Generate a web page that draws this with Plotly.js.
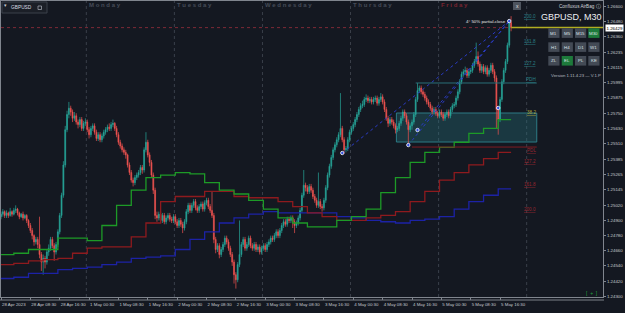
<!DOCTYPE html>
<html><head><meta charset="utf-8">
<script src="https://cdn.plot.ly/plotly-3.0.1.min.js"></script>
<style>html,body{margin:0;padding:0;background:#141821;}#chart{width:625px;height:313px;}</style>
</head><body><div id="chart"></div>
<script>
// ---------- DATA (GBPUSD M30, 28 Apr 2023 00:30 -> 5 May 2023) ----------
const barOpen = [
1.2493,1.2495,1.2497,1.2494,1.2496,1.2494,1.2497,1.2495,1.2498,1.2499,
1.2496,1.2493,1.2495,1.2492,1.2494,1.2490,1.2486,1.2482,1.2478,1.2473,
1.2475,1.2471,1.2463,1.2457,1.2460,1.2457,1.2465,1.2468,1.2475,1.2470,
1.2465,1.2471,1.2481,1.2494,1.2510,1.2534,1.2562,1.2574,1.2579,1.2576,
1.2571,1.2573,1.2568,1.2566,1.2570,1.2563,1.2567,1.2568,1.2562,1.2558,
1.2563,1.2565,1.2560,1.2555,1.2558,1.2554,1.2557,1.2560,1.2562,1.2564,
1.2563,1.2566,1.2567,1.2563,1.2558,1.2552,1.2549,1.2546,1.2544,1.2542,
1.2534,1.2528,1.2522,1.2520,1.2524,1.2526,1.2528,1.2532,1.2530,1.2546,
1.2552,1.2542,1.2536,1.2526,1.2514,1.2494,1.2492,1.2495,1.2490,1.2494,
1.2489,1.2492,1.2494,1.2491,1.2490,1.2493,1.2489,1.2486,1.2490,1.2487,
1.2484,1.2489,1.2497,1.2502,1.2498,1.2502,1.2505,1.2500,1.2498,1.2501,
1.2503,1.2499,1.2504,1.2506,1.2501,1.2498,1.2494,1.2475,1.2467,1.2470,
1.2463,1.2467,1.2471,1.2476,1.2473,1.2468,1.2463,1.2457,1.2447,1.2443,
1.2455,1.2463,1.2471,1.2475,1.2468,1.2471,1.2476,1.2470,1.2468,1.2471,
1.2467,1.2469,1.2465,1.2468,1.2470,1.2467,1.2471,1.2473,1.2476,1.2475,
1.2478,1.2481,1.2478,1.2482,1.2486,1.2489,1.2487,1.2491,1.2490,1.2492,
1.2489,1.2486,1.2488,1.2492,1.2498,1.2510,1.2518,1.2516,1.2513,1.2517,
1.2514,1.2509,1.2506,1.2502,1.2505,1.2501,1.2500,1.2506,1.2516,1.2526,
1.2533,1.2540,1.2546,1.2550,1.2554,1.2558,1.2563,1.2554,1.2546,1.2547,
1.2554,1.2560,1.2563,1.2566,1.2570,1.2574,1.2578,1.2581,1.2582,1.2586,
1.2587,1.2585,1.2586,1.2584,1.2586,1.2587,1.2583,1.2586,1.2588,1.2584,
1.2578,1.2571,1.2567,1.2570,1.2568,1.2565,1.2562,1.2563,1.2567,1.2571,
1.2576,1.2573,1.2568,1.2562,1.2565,1.2568,1.2574,1.2586,1.2593,1.2595,
1.2592,1.2590,1.2587,1.2584,1.2582,1.2579,1.2576,1.2578,1.2575,1.2573,
1.2576,1.2574,1.2571,1.2574,1.2576,1.2573,1.2578,1.2581,1.2582,1.2587,
1.2592,1.2600,1.2606,1.2608,1.2609,1.2605,1.2608,1.2609,1.2613,1.2616,
1.2620,1.2614,1.2609,1.2612,1.2608,1.2611,1.2606,1.2609,1.2613,1.2608,
1.2603,1.2578,1.2570,1.2586,1.2600,1.2609,1.2616,1.2629,1.2647];
const barHigh = [
1.2497,1.2499,1.2498,1.2498,1.2497,1.2500,1.2498,1.2500,1.2502,1.2500,
1.2497,1.2496,1.2497,1.2495,1.2495,1.2491,1.2488,1.2484,1.2479,1.2477,
1.2477,1.2493,1.2465,1.2463,1.2462,1.2467,1.2471,1.2477,1.2477,1.2472,
1.2473,1.2483,1.2496,1.2512,1.2537,1.2565,1.2577,1.2584,1.2581,1.2578,
1.2576,1.2575,1.2570,1.2572,1.2572,1.2569,1.2571,1.2570,1.2564,1.2565,
1.2567,1.2567,1.2562,1.2560,1.2560,1.2559,1.2562,1.2564,1.2566,1.2567,
1.2568,1.2570,1.2568,1.2565,1.2560,1.2554,1.2551,1.2548,1.2546,1.2543,
1.2536,1.2530,1.2524,1.2526,1.2528,1.2530,1.2534,1.2534,1.2548,1.2560,
1.2554,1.2544,1.2538,1.2528,1.2516,1.2497,1.2497,1.2497,1.2496,1.2496,
1.2494,1.2496,1.2496,1.2493,1.2495,1.2495,1.2491,1.2492,1.2492,1.2489,
1.2491,1.2499,1.2504,1.2504,1.2504,1.2507,1.2507,1.2502,1.2503,1.2505,
1.2505,1.2506,1.2508,1.2508,1.2503,1.2513,1.2496,1.2477,1.2472,1.2472,
1.2469,1.2473,1.2478,1.2478,1.2475,1.2470,1.2465,1.2459,1.2449,1.2457,
1.2490,1.2473,1.2477,1.2477,1.2473,1.2478,1.2478,1.2472,1.2473,1.2473,
1.2471,1.2471,1.2470,1.2472,1.2472,1.2473,1.2475,1.2478,1.2478,1.2480,
1.2483,1.2483,1.2484,1.2488,1.2491,1.2491,1.2493,1.2493,1.2494,1.2494,
1.2491,1.2490,1.2494,1.2500,1.2512,1.2530,1.2520,1.2518,1.2519,1.2519,
1.2516,1.2511,1.2508,1.2528,1.2507,1.2503,1.2508,1.2518,1.2528,1.2535,
1.2542,1.2548,1.2552,1.2556,1.2560,1.2591,1.2565,1.2556,1.2549,1.2556,
1.2562,1.2565,1.2568,1.2572,1.2576,1.2580,1.2583,1.2585,1.2588,1.2590,
1.2589,1.2588,1.2588,1.2588,1.2589,1.2589,1.2588,1.2591,1.2590,1.2586,
1.2580,1.2573,1.2572,1.2572,1.2570,1.2567,1.2565,1.2569,1.2573,1.2578,
1.2578,1.2575,1.2570,1.2567,1.2570,1.2576,1.2588,1.2599,1.2597,1.2597,
1.2594,1.2592,1.2589,1.2586,1.2584,1.2581,1.2580,1.2580,1.2577,1.2578,
1.2578,1.2576,1.2576,1.2578,1.2578,1.2580,1.2583,1.2584,1.2589,1.2594,
1.2602,1.2608,1.2610,1.2612,1.2611,1.2610,1.2611,1.2615,1.2618,1.2631,
1.2624,1.2616,1.2614,1.2614,1.2613,1.2613,1.2611,1.2615,1.2615,1.2610,
1.2605,1.2580,1.2588,1.2602,1.2611,1.2618,1.2631,1.2649,1.2652];
const barLow = [
1.2491,1.2493,1.2492,1.2492,1.2492,1.2493,1.2493,1.2494,1.2496,1.2494,
1.2491,1.2492,1.2490,1.2491,1.2488,1.2484,1.2480,1.2475,1.2470,1.2471,
1.2468,1.2460,1.2450,1.2447,1.2452,1.2455,1.2462,1.2466,1.2468,1.2458,
1.2463,1.2469,1.2479,1.2492,1.2508,1.2532,1.2560,1.2571,1.2573,1.2568,
1.2569,1.2566,1.2563,1.2564,1.2561,1.2561,1.2565,1.2560,1.2555,1.2556,
1.2561,1.2558,1.2553,1.2553,1.2552,1.2552,1.2555,1.2558,1.2560,1.2561,
1.2561,1.2564,1.2561,1.2556,1.2550,1.2547,1.2544,1.2542,1.2539,1.2532,
1.2526,1.2520,1.2517,1.2518,1.2522,1.2524,1.2526,1.2527,1.2528,1.2544,
1.2540,1.2533,1.2524,1.2511,1.2491,1.2489,1.2490,1.2488,1.2488,1.2487,
1.2487,1.2490,1.2489,1.2488,1.2488,1.2487,1.2484,1.2484,1.2485,1.2480,
1.2482,1.2487,1.2495,1.2496,1.2496,1.2500,1.2498,1.2496,1.2496,1.2499,
1.2497,1.2497,1.2502,1.2499,1.2496,1.2492,1.2472,1.2464,1.2465,1.2460,
1.2461,1.2465,1.2469,1.2471,1.2466,1.2461,1.2454,1.2440,1.2436,1.2441,
1.2453,1.2461,1.2469,1.2466,1.2466,1.2469,1.2468,1.2466,1.2466,1.2465,
1.2465,1.2463,1.2463,1.2466,1.2465,1.2465,1.2469,1.2471,1.2473,1.2473,
1.2476,1.2476,1.2476,1.2480,1.2484,1.2485,1.2485,1.2488,1.2488,1.2484,
1.2480,1.2484,1.2486,1.2490,1.2496,1.2508,1.2513,1.2511,1.2511,1.2512,
1.2507,1.2504,1.2500,1.2500,1.2499,1.2497,1.2498,1.2504,1.2514,1.2524,
1.2531,1.2538,1.2544,1.2548,1.2552,1.2556,1.2552,1.2543,1.2544,1.2545,
1.2552,1.2558,1.2561,1.2564,1.2568,1.2572,1.2576,1.2579,1.2580,1.2584,
1.2583,1.2583,1.2582,1.2582,1.2584,1.2581,1.2581,1.2584,1.2582,1.2576,
1.2569,1.2564,1.2565,1.2566,1.2563,1.2559,1.2560,1.2561,1.2565,1.2569,
1.2571,1.2566,1.2550,1.2560,1.2562,1.2566,1.2572,1.2584,1.2591,1.2590,
1.2588,1.2585,1.2582,1.2580,1.2577,1.2574,1.2574,1.2573,1.2571,1.2571,
1.2572,1.2569,1.2569,1.2572,1.2571,1.2571,1.2576,1.2579,1.2580,1.2585,
1.2590,1.2598,1.2604,1.2606,1.2603,1.2603,1.2606,1.2607,1.2611,1.2614,
1.2612,1.2607,1.2607,1.2606,1.2606,1.2604,1.2604,1.2607,1.2606,1.2600,
1.2563,1.2558,1.2568,1.2584,1.2598,1.2607,1.2614,1.2627,1.2640];
const barClose = [
1.2495,1.2497,1.2494,1.2496,1.2494,1.2497,1.2495,1.2498,1.2499,1.2496,
1.2493,1.2495,1.2492,1.2494,1.2490,1.2486,1.2482,1.2478,1.2473,1.2475,
1.2471,1.2463,1.2457,1.2460,1.2457,1.2465,1.2468,1.2475,1.2470,1.2465,
1.2471,1.2481,1.2494,1.2510,1.2534,1.2562,1.2574,1.2579,1.2576,1.2571,
1.2573,1.2568,1.2566,1.2570,1.2563,1.2567,1.2568,1.2562,1.2558,1.2563,
1.2565,1.2560,1.2555,1.2558,1.2554,1.2557,1.2560,1.2562,1.2564,1.2563,
1.2566,1.2567,1.2563,1.2558,1.2552,1.2549,1.2546,1.2544,1.2542,1.2534,
1.2528,1.2522,1.2520,1.2524,1.2526,1.2528,1.2532,1.2530,1.2546,1.2552,
1.2542,1.2536,1.2526,1.2514,1.2494,1.2492,1.2495,1.2490,1.2494,1.2489,
1.2492,1.2494,1.2491,1.2490,1.2493,1.2489,1.2486,1.2490,1.2487,1.2484,
1.2489,1.2497,1.2502,1.2498,1.2502,1.2505,1.2500,1.2498,1.2501,1.2503,
1.2499,1.2504,1.2506,1.2501,1.2498,1.2494,1.2475,1.2467,1.2470,1.2463,
1.2467,1.2471,1.2476,1.2473,1.2468,1.2463,1.2457,1.2447,1.2443,1.2455,
1.2463,1.2471,1.2475,1.2468,1.2471,1.2476,1.2470,1.2468,1.2471,1.2467,
1.2469,1.2465,1.2468,1.2470,1.2467,1.2471,1.2473,1.2476,1.2475,1.2478,
1.2481,1.2478,1.2482,1.2486,1.2489,1.2487,1.2491,1.2490,1.2492,1.2489,
1.2486,1.2488,1.2492,1.2498,1.2510,1.2518,1.2516,1.2513,1.2517,1.2514,
1.2509,1.2506,1.2502,1.2505,1.2501,1.2500,1.2506,1.2516,1.2526,1.2533,
1.2540,1.2546,1.2550,1.2554,1.2558,1.2563,1.2554,1.2546,1.2547,1.2554,
1.2560,1.2563,1.2566,1.2570,1.2574,1.2578,1.2581,1.2582,1.2586,1.2587,
1.2585,1.2586,1.2584,1.2586,1.2587,1.2583,1.2586,1.2588,1.2584,1.2578,
1.2571,1.2567,1.2570,1.2568,1.2565,1.2562,1.2563,1.2567,1.2571,1.2576,
1.2573,1.2568,1.2562,1.2565,1.2568,1.2574,1.2586,1.2593,1.2595,1.2592,
1.2590,1.2587,1.2584,1.2582,1.2579,1.2576,1.2578,1.2575,1.2573,1.2576,
1.2574,1.2571,1.2574,1.2576,1.2573,1.2578,1.2581,1.2582,1.2587,1.2592,
1.2600,1.2606,1.2608,1.2609,1.2605,1.2608,1.2609,1.2613,1.2616,1.2620,
1.2614,1.2609,1.2612,1.2608,1.2611,1.2606,1.2609,1.2613,1.2608,1.2603,
1.2578,1.2570,1.2586,1.2600,1.2609,1.2616,1.2629,1.2647,1.26429];

// H4-step indicator levels (one value per 8-bar block)
const greenH4 = [1.2463,1.2464,1.2467,1.2467,1.2476,1.2476,1.2474,1.2486,1.2502,1.2514,1.2524,1.2526,1.2528,1.2527,1.2520,1.2514,1.2511,1.2506,1.2499,1.2492,1.2488,1.2485,1.2485,1.2490,1.2493,1.2499,1.2512,1.2524,1.2536,1.2544,1.2548,1.2552,1.2559,1.2563,1.2570];
const redH4 = [1.2455,1.2456,1.2458,1.2459,1.2460,1.2464,1.2468,1.2469,1.2469,1.2477,1.2488,1.2505,1.2509,1.2509,1.2513,1.2513,1.2509,1.2508,1.2508,1.2505,1.2501,1.2496,1.2493,1.2490,1.2490,1.2492,1.2494,1.2497,1.2505,1.2513,1.2522,1.2528,1.2534,1.2539,1.2544];
const blueH4 = [1.2444,1.2445,1.2448,1.2448,1.2451,1.2452,1.2453,1.2455,1.2457,1.2460,1.2461,1.2462,1.2467,1.2475,1.2481,1.2488,1.2492,1.2495,1.2497,1.2496,1.2496,1.2496,1.2496,1.2493,1.2492,1.2490,1.2489,1.2488,1.2490,1.2491,1.2493,1.2499,1.2505,1.2510,1.2515];

// swing points and trend lines
const swingBars = [186, 222, 227, 271, 277];
const swingPrices = [1.25435, 1.25498, 1.25617, 1.25792, 1.26481];
const trendFrom = [0, 1, 2];
const trendTo = 4;

// zones and level labels
const boxBars = [215.5, 292];
const boxPrices = [1.25522, 1.25752];
const pdhPrice = 1.25990, pdhBars = [226, 292];
const pdlPrice = 1.25482, pdlBars = [224, 292];
const levelLabels = ['200.0','161.8','127.2','PDH','38.2','PDL','127.2','161.8','200.0'];
const levelPrices = [1.26517,1.26315,1.26148,1.26014,1.25760,1.25455,1.25364,1.25189,1.24990];
const levelColors = ['#2a8088','#2a8088','#2a8088','#2a8088','#b0a43a','#9a2630','#9a2630','#9a2630','#9a2630'];

// axes
const xTickBars = [0,16,32,48,64,80,96,112,128,144,160,176,192,208,224,240,256,272];
const xTickLabels = ['28 Apr 2023','28 Apr 08:30','28 Apr 16:30','1 May 00:30','1 May 08:30','1 May 16:30','2 May 00:30','2 May 08:30','2 May 16:30','3 May 00:30','3 May 08:30','3 May 16:30','4 May 00:30','4 May 08:30','4 May 16:30','5 May 00:30','5 May 08:30','5 May 16:30'];
const yTickValues = [1.266,1.2648,1.2636,1.26235,1.26115,1.25995,1.25875,1.2575,1.2563,1.2551,1.25385,1.25265,1.25145,1.2502,1.249,1.2478,1.2466,1.2454,1.2442,1.243];
const daySepBars = [46.5, 94.5, 142.5, 190.5, 238.5, 286.5];
const dayNames = ['Monday','Tuesday','Wednesday','Thursday','Friday'];

const btnLabels = [['M1','M5','M15','M30'],['H1','H4','D1','W1'],['ZL','EL','PL','KE']];
const btnActive = ['M30','EL'];

// ---------- BUILD ----------
const FONT = 'Liberation Sans, Arial, sans-serif';
const px = x => (x - 1) / 602;
const py = y => (297 - y) / 296;
const barIndex = barClose.map((_, i) => i);
const lastBar = barIndex[barIndex.length - 1];
const lastClose = barClose[barClose.length - 1];

const traces = [];
traces.push({
  type: 'candlestick', x: barIndex, open: barOpen, high: barHigh, low: barLow, close: barClose,
  increasing: {line: {color: '#26a69a', width: 0.7}, fillcolor: '#26a69a'},
  decreasing: {line: {color: '#ef5350', width: 0.7}, fillcolor: '#ef5350'},
  whiskerwidth: 0, hoverinfo: 'skip', showlegend: false
});
function stepTrace(vals, color) {
  const xs = vals.map((_, k) => Math.max(0, 8 * k - 1));
  xs.push(lastBar);
  const ys = vals.slice(); ys.push(vals[vals.length - 1]);
  return {type: 'scatter', mode: 'lines', x: xs, y: ys, line: {shape: 'hv', color: color, width: 1.3}, hoverinfo: 'skip', showlegend: false};
}
traces.push(stepTrace(blueH4, '#1c22a6'));
traces.push(stepTrace(redH4, '#8e1a1e'));
traces.push(stepTrace(greenH4, '#1d9a27'));
trendFrom.forEach(i => traces.push({
  type: 'scatter', mode: 'lines', x: [swingBars[i], swingBars[trendTo]], y: [swingPrices[i], swingPrices[trendTo]],
  line: {color: '#2a3bc4', width: 1, dash: 'dot'}, hoverinfo: 'skip', showlegend: false
}));
traces.push({type: 'scatter', mode: 'markers', x: swingBars, y: swingPrices,
  marker: {size: 3.4, color: '#3150e0', line: {color: '#ffffff', width: 0.8}}, hoverinfo: 'skip', showlegend: false});

const shapes = [];
const annotations = [];
daySepBars.forEach(b => shapes.push({type: 'line', xref: 'x', yref: 'paper', x0: b, x1: b, y0: 0, y1: 1,
  line: {color: '#3a3f4a', width: 1, dash: 'dot'}, layer: 'below'}));
dayNames.forEach((n, i) => annotations.push({xref: 'x', yref: 'paper', x: daySepBars[i] + 1.0, y: py(5.3),
  xanchor: 'left', yanchor: 'middle', showarrow: false, borderpad: 0, text: n.split('').join(' '),
  font: {family: FONT, size: 6, weight: 'bold', color: n === 'Friday' ? '#7a2430' : '#464c58'}}));
shapes.push({type: 'rect', xref: 'x', yref: 'y', x0: boxBars[0], x1: boxBars[1], y0: boxPrices[0], y1: boxPrices[1],
  fillcolor: 'rgba(38,120,132,0.33)', line: {color: '#2c7b86', width: 1}, layer: 'below'});
shapes.push({type: 'line', xref: 'x', yref: 'y', x0: pdhBars[0], x1: pdhBars[1], y0: pdhPrice, y1: pdhPrice, line: {color: '#2a6f78', width: 1}});
shapes.push({type: 'line', xref: 'x', yref: 'y', x0: pdlBars[0], x1: pdlBars[1], y0: pdlPrice, y1: pdlPrice, line: {color: '#7e1c22', width: 1}});
shapes.push({type: 'line', xref: 'paper', yref: 'y', x0: 0, x1: 1, y0: lastClose, y1: lastClose, line: {color: '#7d2a36', width: 1, dash: 'dot'}});
shapes.push({type: 'line', xref: 'x', yref: 'y', x0: lastBar, x1: 330, y0: lastClose, y1: lastClose, line: {color: '#b1ad22', width: 1.5}});
levelLabels.forEach((t, i) => annotations.push({xref: 'x', yref: 'y', x: boxBars[1], y: levelPrices[i], xanchor: 'right', yanchor: 'middle',
  showarrow: false, borderpad: 0, text: '<u>' + t + '</u>', font: {family: FONT, size: 4.6, color: levelColors[i]}}));
annotations.push({xref: 'x', yref: 'y', x: swingBars[4] - 1, y: swingPrices[4] - 0.00006, xanchor: 'right', yanchor: 'middle', showarrow: false, borderpad: 0,
  text: '4° 50% partial-close', font: {family: FONT, size: 4.4, color: '#e6e6e6'}});
// bottom second frame line
shapes.push({type: 'line', xref: 'paper', yref: 'paper', x0: px(0), x1: px(604), y0: py(300), y1: py(300), line: {color: '#7c818a', width: 1}});
// top-left tab
shapes.push({type: 'rect', xref: 'paper', yref: 'paper', x0: px(2), x1: px(47), y0: py(13), y1: py(2), fillcolor: '#1b1f27', line: {color: '#3a404a', width: 1}});
shapes.push({type: 'rect', xref: 'paper', yref: 'paper', x0: px(38), x1: px(41.5), y0: py(9.5), y1: py(6), line: {color: '#9aa0a8', width: 0.8}});
annotations.push({xref: 'paper', yref: 'paper', x: px(3), y: py(4.5), xanchor: 'left', yanchor: 'middle', showarrow: false, borderpad: 0, text: '▾', font: {family: FONT, size: 5, color: '#c8ccd2'}});
annotations.push({xref: 'paper', yref: 'paper', x: px(10), y: py(7.5), xanchor: 'left', yanchor: 'middle', showarrow: false, borderpad: 0, text: 'GBPUSD', font: {family: FONT, size: 4.8, color: '#d8dce2'}});
// close box
shapes.push({type: 'rect', xref: 'paper', yref: 'paper', x0: px(513), x1: px(521), y0: py(10), y1: py(2), fillcolor: '#4e545e', line: {width: 0}});
annotations.push({xref: 'paper', yref: 'paper', x: px(517), y: py(6), xanchor: 'center', yanchor: 'middle', showarrow: false, borderpad: 0, text: 'x', font: {family: FONT, size: 5, color: '#e0e0e0'}});
// panel
annotations.push({xref: 'paper', yref: 'paper', x: px(602), y: py(5.5), xanchor: 'right', yanchor: 'middle', showarrow: false, borderpad: 0, text: 'Confluxus AirBag ⓘ', font: {family: FONT, size: 4.6, color: '#cfd3d8'}});
annotations.push({xref: 'paper', yref: 'paper', x: px(602.5), y: py(17.5), xanchor: 'right', yanchor: 'middle', showarrow: false, borderpad: 0, text: 'GBPUSD, M30', font: {family: FONT, size: 9, color: '#eceff3'}});
const colX = [548.3, 561.7, 575, 588.3], rowY = [28.3, 42.3, 56];
btnLabels.forEach((row, r) => row.forEach((lab, c) => {
  shapes.push({type: 'rect', xref: 'paper', yref: 'paper', x0: px(colX[c]), x1: px(colX[c] + 11.2), y0: py(rowY[r] + 9.6), y1: py(rowY[r]),
    fillcolor: btnActive.includes(lab) ? '#1d7a3b' : '#434a55', line: {width: 0}});
  annotations.push({xref: 'paper', yref: 'paper', x: px(colX[c] + 5.6), y: py(rowY[r] + 4.8), xanchor: 'center', yanchor: 'middle', showarrow: false, borderpad: 0,
    text: lab, font: {family: FONT, size: 4.4, color: '#dde2e8'}});
}));
annotations.push({xref: 'paper', yref: 'paper', x: px(602), y: py(75.5), xanchor: 'right', yanchor: 'middle', showarrow: false, borderpad: 0, text: 'Version 1.11.4.23 — V.1.P', font: {family: FONT, size: 4.3, color: '#b9bec5'}});
annotations.push({xref: 'paper', yref: 'paper', x: px(592), y: py(293), xanchor: 'center', yanchor: 'middle', showarrow: false, borderpad: 0, text: '[  +  ]', font: {family: FONT, size: 5, color: '#22a33d'}});
// current price tag
annotations.push({xref: 'paper', yref: 'y', x: px(605), y: lastClose, xanchor: 'left', yanchor: 'middle', showarrow: false, borderpad: 0.5, bgcolor: '#ffffff',
  text: lastClose.toFixed(5), font: {family: FONT, size: 4.4, color: '#000000'}});

const layout = {
  width: 625, height: 313, margin: {l: 1, r: 22, t: 1, b: 16, pad: 0},
  paper_bgcolor: '#141821', plot_bgcolor: '#141821', showlegend: false, dragmode: false,
  xaxis: {range: [0, 328.1], showgrid: false, zeroline: false, showline: true, mirror: true, linecolor: '#80858e', linewidth: 1,
    tickmode: 'array', tickvals: xTickBars, ticktext: xTickLabels, ticks: 'outside', ticklen: 2, tickcolor: '#80858e',
    ticklabelposition: 'outside right', ticklabelstandoff: 3, tickangle: 0,
    tickfont: {family: FONT, size: 4.4, color: '#c4c8ce'}, rangeslider: {visible: false}, automargin: false, fixedrange: true},
  yaxis: {side: 'right', range: [1.242933, 1.2664], showgrid: false, zeroline: false, showline: true, mirror: true, linecolor: '#80858e', linewidth: 1,
    tickmode: 'array', tickvals: yTickValues, ticktext: yTickValues.map(v => v.toFixed(5)), ticks: 'outside', ticklen: 2, tickcolor: '#80858e',
    tickfont: {family: FONT, size: 4.4, color: '#c4c8ce'}, automargin: false, fixedrange: true},
  shapes: shapes, annotations: annotations
};
Plotly.newPlot('chart', traces, layout, {staticPlot: true, displayModeBar: false});
</script></body></html>
